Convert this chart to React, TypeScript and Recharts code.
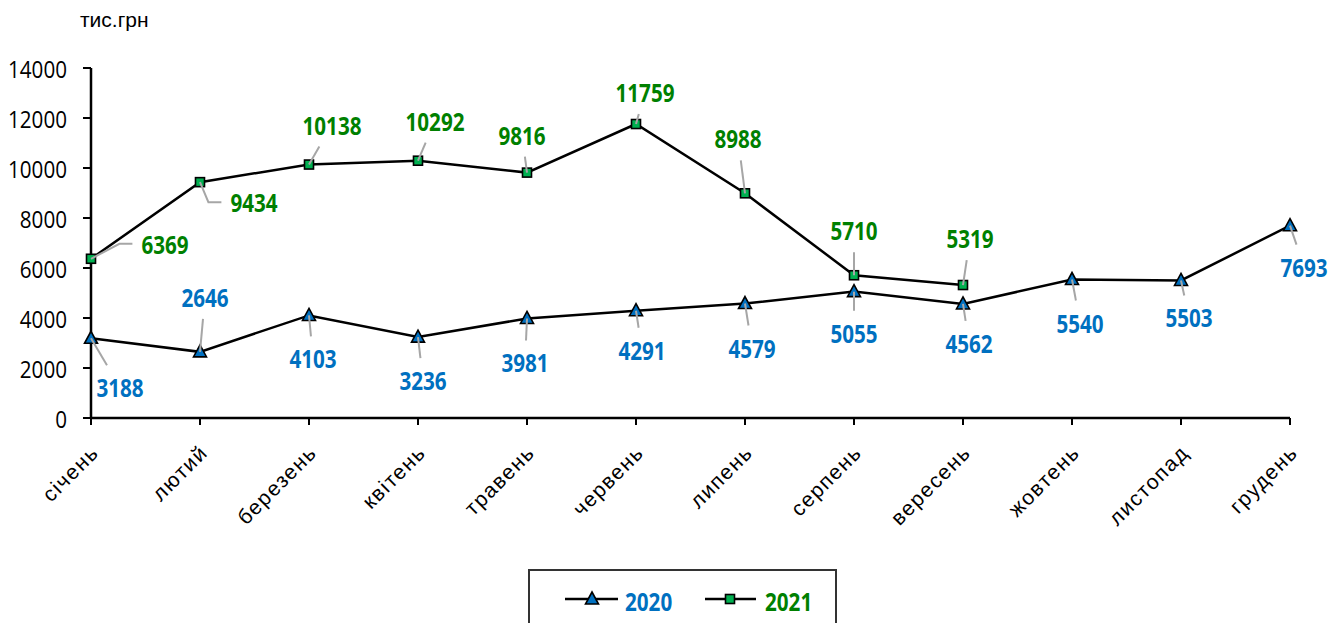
import { Line, LineChart, XAxis, YAxis } from "recharts";

const months = [
  "січень",
  "лютий",
  "березень",
  "квітень",
  "травень",
  "червень",
  "липень",
  "серпень",
  "вересень",
  "жовтень",
  "листопад",
  "грудень",
];
const values2020 = [3188, 2646, 4103, 3236, 3981, 4291, 4579, 5055, 4562, 5540, 5503, 7693];
const values2021 = [6369, 9434, 10138, 10292, 9816, 11759, 8988, 5710, 5319, null, null, null];
const yTicks = [0, 2000, 4000, 6000, 8000, 10000, 12000, 14000];

// label placement relative to each point (text centre), like the hand-placed excel labels
const offsets2020: [number, number][] = [
  [29, 49], [5, -55], [4, 43], [5, 43], [-2, 44], [6, 39],
  [7, 44], [0, 41], [6, 39], [8, 43], [8, 37], [14, 41],
];
const offsets2021: [number, number][] = [
  [74, -15], [54, 20], [23, -40], [17, -40], [-5, -38], [9, -32],
  [-7, -55], [0, -45], [7, -47],
];

const data = months.map((m, i) => ({ month: m, y2020: values2020[i], y2021: values2021[i] }));

const BLUE = "#0070C0";
const GREEN_TEXT = "#008000";
const GREEN = "#00B050";
const LEADER = "#A6A6A6";
const NUM_FONT = "'Open Sans', sans-serif";
const DIGIT_W = 11.8; // narrow digits, squeezed with textLength

function Triangle({ cx, cy }: any) {
  if (cx == null || cy == null) return null;
  return (
    <polygon
      points={`${cx},${cy - 7} ${cx + 6.5},${cy + 5} ${cx - 6.5},${cy + 5}`}
      fill={BLUE}
      stroke="#000"
      strokeWidth={1.6}
    />
  );
}

function Square({ cx, cy }: any) {
  if (cx == null || cy == null) return null;
  return <rect x={cx - 4.5} y={cy - 4.5} width={9} height={9} fill={GREEN} stroke="#000" strokeWidth={1.6} />;
}

function makeLabel(offsets: [number, number][], color: string) {
  return (props: any) => {
    const { x, y, value, index } = props;
    if (value == null || x == null || y == null) return null;
    const [dx, dy] = offsets[index] || [0, -30];
    const tx = x + dx;
    const ty = y + dy;
    const str = String(value);
    const halfW = (str.length * DIGIT_W) / 2 + 9;
    const halfH = 22;
    let leader: string;
    if (Math.abs(dx) > Math.abs(dy) * 2) {
      // elbow leader coming in from the side
      const ex = tx - Math.sign(dx) * halfW;
      const bx = ex - Math.sign(dx) * 13;
      leader = `M${x},${y} L${bx},${ty} L${ex},${ty}`;
    } else {
      const t = Math.min(Math.abs(halfW / (dx || 0.001)), Math.abs(halfH / (dy || 0.001)));
      const ex = tx - dx * t;
      const ey = ty - dy * t;
      leader = `M${x},${y} L${ex},${ey}`;
    }
    return (
      <g>
        <path d={leader} stroke={LEADER} strokeWidth={2} fill="none" />
        <text
          x={tx}
          y={ty}
          textAnchor="middle"
          dominantBaseline="central"
          fill={color}
          fontFamily={NUM_FONT}
          fontWeight="bold"
          fontSize={25}
          textLength={str.length * DIGIT_W}
          lengthAdjust="spacingAndGlyphs"
        >
          {str}
        </text>
      </g>
    );
  };
}

function MonthTick({ x, y, payload }: any) {
  const ax = x + 9;
  const ay = y + 27;
  return (
    <text
      x={ax}
      y={ay}
      transform={`rotate(-45 ${ax} ${ay})`}
      textAnchor="end"
      fill="#000"
      fontFamily="'Liberation Sans', sans-serif"
      fontSize={21}
      letterSpacing={1.5}
    >
      {payload.value}
    </text>
  );
}

function ValueTick({ x, y, payload }: any) {
  const str = String(payload.value);
  return (
    <text
      x={x}
      y={y}
      textAnchor="end"
      dominantBaseline="central"
      fill="#000"
      fontFamily={NUM_FONT}
      fontSize={24}
      textLength={str.length * DIGIT_W}
      lengthAdjust="spacingAndGlyphs"
    >
      {str}
    </text>
  );
}

export default function App() {
  return (
    <div style={{ position: "absolute", left: 0, top: 0, width: 1341, height: 623, background: "#fff" }}>
      <div
        style={{
          position: "absolute",
          left: 80,
          top: 8,
          fontFamily: "'Liberation Sans', sans-serif",
          fontSize: 21,
          color: "#000",
        }}
      >
        тис.грн
      </div>
      <LineChart width={1341} height={623} data={data} margin={{ top: 68, right: 51, left: 0, bottom: 55 }}>
        <XAxis
          dataKey="month"
          interval={0}
          height={150}
          padding={{ left: 0, right: 0 }}
          axisLine={{ stroke: "#000", strokeWidth: 2.5 }}
          tickLine={{ stroke: "#000", strokeWidth: 2 }}
          tickSize={7}
          tick={<MonthTick />}
        />
        <YAxis
          width={91}
          domain={[0, 14000]}
          ticks={yTicks}
          axisLine={{ stroke: "#000", strokeWidth: 2.5 }}
          tickLine={{ stroke: "#000", strokeWidth: 2 }}
          tickSize={8}
          tickMargin={16}
          tick={<ValueTick />}
        />
        <Line
          dataKey="y2020"
          name="2020"
          stroke="#000"
          strokeWidth={2.5}
          dot={<Triangle />}
          activeDot={false}
          label={makeLabel(offsets2020, BLUE)}
          isAnimationActive={false}
        />
        <Line
          dataKey="y2021"
          name="2021"
          stroke="#000"
          strokeWidth={2.5}
          dot={<Square />}
          activeDot={false}
          label={makeLabel(offsets2021, GREEN_TEXT)}
          isAnimationActive={false}
        />
      </LineChart>
      <svg width={309} height={55} style={{ position: "absolute", left: 528, top: 569 }}>
        <rect x={1} y={1} width={307} height={60} fill="#fff" stroke="#333" strokeWidth={2} />
        <line x1={37} y1={30} x2={90} y2={30} stroke="#000" strokeWidth={2.5} />
        <polygon points="64,23 70.5,35 57.5,35" fill={BLUE} stroke="#000" strokeWidth={1.6} />
        <text
          x={97}
          y={32}
          dominantBaseline="central"
          fill={BLUE}
          fontFamily={NUM_FONT}
          fontWeight="bold"
          fontSize={25}
          textLength={4 * DIGIT_W}
          lengthAdjust="spacingAndGlyphs"
        >
          2020
        </text>
        <line x1={177} y1={30} x2={228} y2={30} stroke="#000" strokeWidth={2.5} />
        <rect x={197.5} y={25.5} width={9} height={9} fill={GREEN} stroke="#000" strokeWidth={1.6} />
        <text
          x={237}
          y={32}
          dominantBaseline="central"
          fill={GREEN_TEXT}
          fontFamily={NUM_FONT}
          fontWeight="bold"
          fontSize={25}
          textLength={4 * DIGIT_W}
          lengthAdjust="spacingAndGlyphs"
        >
          2021
        </text>
      </svg>
    </div>
  );
}
